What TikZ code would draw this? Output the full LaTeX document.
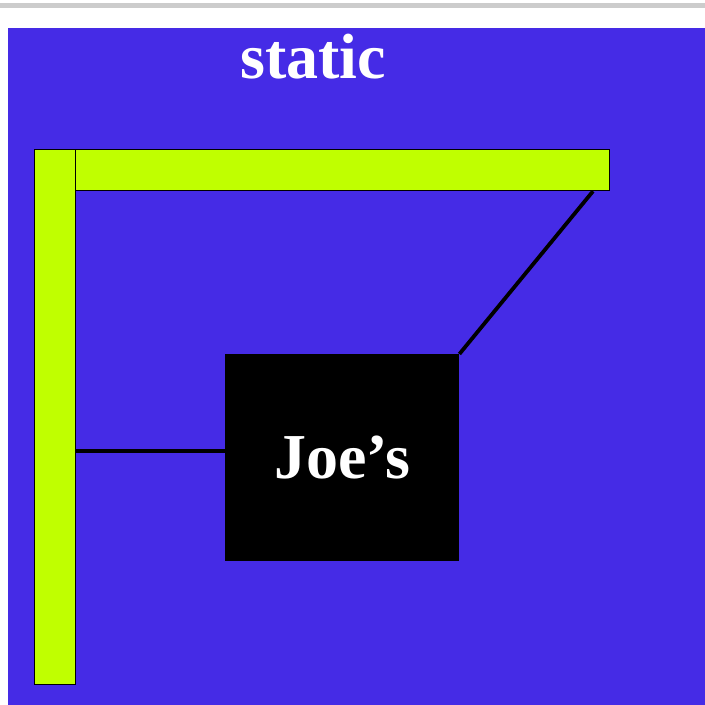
\documentclass[tikz,border=0pt]{standalone}
\usepackage{fontspec}
\setmainfont{Liberation Serif}
\definecolor{skyblue}{RGB}{69,43,230}
\definecolor{lime}{RGB}{192,255,0}
\definecolor{rulegray}{RGB}{204,204,204}

\begin{document}
\begin{tikzpicture}[x=1pt, y=-1pt,
    board/.style={draw=black, line width=1.2pt, fill=lime, inner sep=0pt, anchor=north west},
    wire/.style={line width=3.8pt, black},
    label/.style={text=white, font=\bfseries\fontsize{64}{64}\selectfont}]
    % page: white margin, grey rule on top, blue panel
    \fill[white] (0,0) rectangle (705,705);
    \useasboundingbox (0,0) rectangle (705,705);
    \fill[rulegray] (0,3) rectangle (705,8);
    \fill[skyblue] (8,28) rectangle (705,705);

    \node[label, anchor=base] (title) at (313,78) {static};

    % the post and its arm
    \node[board, minimum width=41pt, minimum height=535pt] (post) at (34,149) {};
    \node[board, minimum width=534pt, minimum height=41pt] (bar) at (75,149) {};

    % the sign
    \node[label, fill=black, inner sep=0pt, minimum width=234pt, minimum height=207pt,
          anchor=north west] (sign) at (225,354) {Joe’s};

    \coordinate (hook) at (0,451);
    \coordinate (eye) at (593,0);
    \draw[wire] (post.east |- hook) -- (sign.west |- hook);
    \draw[wire] (bar.south -| eye) -- (sign.north east);
\end{tikzpicture}
\end{document}
